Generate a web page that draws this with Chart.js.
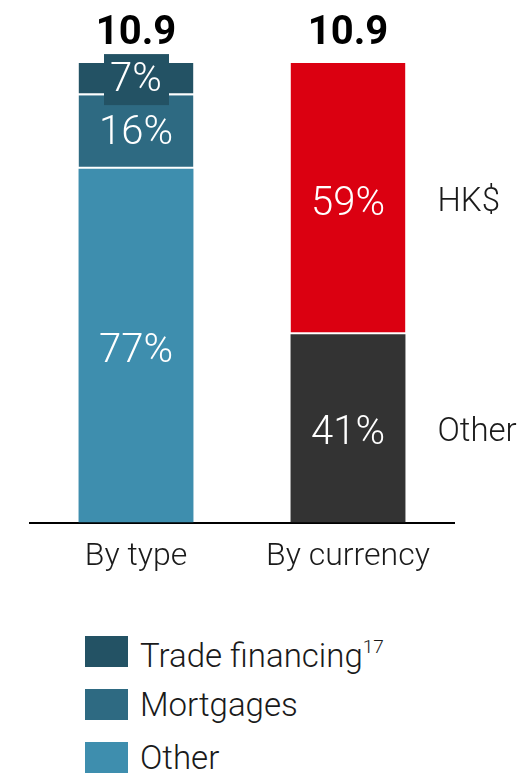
<!DOCTYPE html>
<html>
<head>
<meta charset="utf-8">
<script src="https://cdn.jsdelivr.net/npm/chart.js@4/dist/chart.umd.min.js"></script>
<style>
  html, body { margin: 0; padding: 0; background: #fff; }
  body { width: 520px; height: 774px; position: relative; overflow: hidden; font-family: Roboto, sans-serif; }
  #wrap { position: absolute; left: 0; top: 0; width: 520px; height: 600px; }
  #legend { position: absolute; left: 85px; top: 636px; }
  .item { display: flex; align-items: center; height: 31px; margin-bottom: 22px; }
  .sw { width: 43px; height: 31px; margin-right: 12px; }
  .txt { font-size: 33px; font-weight: 300; color: #1a1a1a; line-height: 31px; }
  .txt sup { font-size: 19px; position: relative; top: -2px; }
</style>
</head>
<body>
<div id="wrap"><canvas id="c" width="520" height="600"></canvas></div>
<div id="legend"></div>
<script>
const categories = ['By type', 'By currency'];
const totals = [10.9, 10.9];
const typeOther = [77, null];
const typeMortgages = [16, null];
const typeTrade = [7, null];
const currencyOther = [null, 41];
const currencyHKD = [null, 59];

const COLORS = {
  trade: '#235264',
  mortgages: '#2e6a82',
  typeOther: '#3e8eae',
  curOther: '#333333',
  hkd: '#db0011',
};

const LABEL_FONT = '300 40px Roboto, sans-serif';
const TEXT = '#1a1a1a';

function seg(label, data, color, sep, side) {
  return {
    label,
    data,
    backgroundColor: color,
    borderColor: '#fff',
    borderWidth: sep ? { top: 0, right: 0, bottom: 2, left: 0 } : 0,
    borderSkipped: false,
    side,
  };
}

const barLabels = {
  id: 'barLabels',
  afterDatasetsDraw(chart) {
    const ctx = chart.ctx;
    const tops = {};
    ctx.save();
    chart.data.datasets.forEach((ds, di) => {
      const meta = chart.getDatasetMeta(di);
      meta.data.forEach((el, i) => {
        const v = ds.data[i];
        if (v == null) return;
        const cy = (el.y + el.base) / 2;
        if (tops[i] == null || el.y < tops[i].y) tops[i] = el;
        ctx.font = LABEL_FONT;
        ctx.textAlign = 'center';
        ctx.textBaseline = 'middle';
        if (ds.box) {
          ctx.fillStyle = ds.backgroundColor;
          ctx.fillRect(el.x - 32, cy - 25, 65, 51);
        }
        ctx.fillStyle = '#fff';
        ctx.fillText(`${v}%`, el.x, cy + (v > 30 ? 6 : 2));
        if (ds.side) {
          ctx.font = '300 33px Roboto, sans-serif';
          ctx.textAlign = 'left';
          ctx.fillStyle = TEXT;
          ctx.fillText(ds.side, el.x + el.width / 2 + 32, cy + 4);
        }
      });
    });
    Object.keys(tops).forEach((i) => {
      const el = tops[i];
      ctx.font = 'bold 40px Roboto, sans-serif';
      ctx.textAlign = 'center';
      ctx.textBaseline = 'middle';
      ctx.fillStyle = '#000';
      ctx.fillText(totals[i].toFixed(1), el.x, el.y - 29);
    });
    ctx.restore();
  },
};

const datasets = [
  seg('Other', typeOther, COLORS.typeOther, false),
  seg('Mortgages', typeMortgages, COLORS.mortgages, true),
  Object.assign(seg('Trade financing', typeTrade, COLORS.trade, true), { box: true }),
  seg('Other', currencyOther, COLORS.curOther, false, 'Other'),
  seg('HK$', currencyHKD, COLORS.hkd, true, 'HK$'),
];

new Chart(document.getElementById('c'), {
  type: 'bar',
  data: { labels: categories, datasets },
  options: {
    responsive: false,
    animation: false,
    devicePixelRatio: 1,
    layout: { padding: { left: 30, right: 66, top: 63, bottom: 9 } },
    categoryPercentage: 1,
    barPercentage: 0.542,
    plugins: { legend: { display: false }, tooltip: { enabled: false } },
    scales: {
      x: {
        stacked: true,
        grid: { display: false, drawTicks: false },
        border: { display: true, color: '#000', width: 2 },
        ticks: { color: TEXT, padding: 15, font: { family: 'Roboto', size: 32, weight: 300 } },
      },
      y: {
        stacked: true,
        display: false,
        min: 0,
        max: 100,
      },
    },
  },
  plugins: [barLabels],
});

const legendItems = [
  { label: 'Trade financing', sup: '17', color: COLORS.trade },
  { label: 'Mortgages', sup: '', color: COLORS.mortgages },
  { label: 'Other', sup: '', color: COLORS.typeOther },
];
document.getElementById('legend').innerHTML = legendItems.map((it) => `
  <div class="item"><div class="sw" style="background:${it.color}"></div>
  <span class="txt">${it.label}${it.sup ? `<sup>${it.sup}</sup>` : ''}</span></div>`).join('');
</script>
</body>
</html>
